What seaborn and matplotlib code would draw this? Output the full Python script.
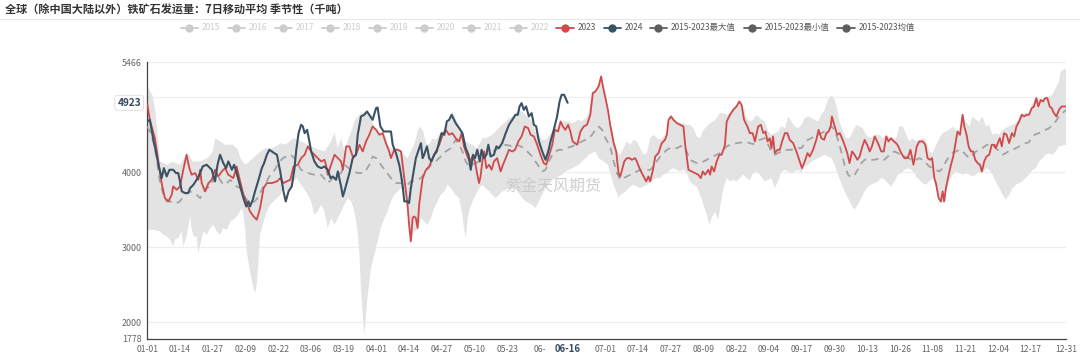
import numpy as np
import pandas as pd
import matplotlib
matplotlib.use("Agg")
import matplotlib.pyplot as plt
from matplotlib.lines import Line2D
import seaborn as sns

# ---------------- data ----------------
title = "全球（除中国大陆以外）铁矿石发运量：7日移动平均 季节性（千吨）"
legend_off = ["2015", "2016", "2017", "2018", "2019", "2020", "2021", "2022"]
legend_on = ["2023", "2024", "2015-2023最大值", "2015-2023最小值", "2015-2023均值"]
xtick_labels = ["01-01", "01-14", "01-27", "02-09", "02-22", "03-06", "03-19", "04-01",
                "04-14", "04-27", "05-10", "05-23", "06-05", "07-01", "07-14", "07-27",
                "08-09", "08-22", "09-04", "09-17", "09-30", "10-13", "10-26", "11-08",
                "11-21", "12-04", "12-17", "12-31"]
xtick_shown = ["01-01", "01-14", "01-27", "02-09", "02-22", "03-06", "03-19", "04-01",
               "04-14", "04-27", "05-10", "05-23", "06-", "07-01", "07-14", "07-27",
               "08-09", "08-22", "09-04", "09-17", "09-30", "10-13", "10-26", "11-08",
               "11-21", "12-04", "12-17", "12-31"]
last_date_label = "06-16"
last_value = 4923
ytick_values = [1778, 2000, 3000, 4000, 5466]
grid_values = [2000, 3000, 4000, 5000, 5466]
y_lo, y_hi = 1778, 5466
watermark = "紫金天风期货"

# day of year (0 = 01-01) and values
day_2023 = [0, 1, 3, 4.4, 5.7, 7, 8.4, 9.7, 10.3, 11.7, 13, 14.3, 15.6, 16.7, 17.6, 19, 20.3, 21, 21.6, 23,
            24.3, 25.6, 26.9, 28.2, 29.6, 30.9, 32.2, 34.2, 35.5, 36.9, 38.2, 39.5, 40.8, 42.2, 43.5, 44.8,
            46.2, 47.5, 49.5, 51.5, 52.8, 54.1, 55.4, 56.8, 58.1, 59.8, 61.1, 62.5, 63.8, 65.1, 66.4, 67.7,
            69.1, 70.4, 71, 71.7, 73, 74.4, 75.7, 77, 77.7, 79, 80.3, 81.6, 82.9, 84.3, 85.6, 86.9, 88.2,
            89.5, 90.9, 92.2, 93.5, 94.8, 96.1, 96.8, 98.1, 99.5, 100.8, 102.1, 103.4, 104, 104.7, 105.4,
            106, 106.7, 107.4, 108, 109.4, 110.7, 112, 113.3, 114.6, 116, 117.3, 118.6, 119.9, 121.2, 122.5,
            123.9, 124.9, 125.8, 127.2, 128.1, 129.2, 130.2, 131.1, 131.8, 132.4, 133.1, 133.8, 134.7, 135.8,
            136.8, 137.7, 139, 140.4, 141.3, 142.4, 143.7, 145, 146.1, 147.4, 148.7, 150, 151.3, 152.3, 153.6,
            154.9, 156.2, 157.5, 158.5, 159.5, 160.9, 161.9, 163.2, 164.2, 165.1, 166.1, 167.2, 168.1, 169,
            170.8, 172.1, 173.4, 174.7, 176, 177, 178, 179.3, 180.3, 180.9, 182, 183, 183.9, 185.3, 186.3,
            187.2, 187.9, 188.6, 189.5, 190.5, 191.6, 192.5, 193.8, 194.5, 195.8, 197.2, 198.2, 199.1, 199.8,
            200.9, 201.8, 203.1, 204.4, 205.7, 206.4, 207.1, 208.1, 209, 210.4, 211.7, 213, 213.7, 215, 216.3,
            217.6, 218.9, 219.9, 220.7, 221.6, 222.9, 223.6, 224.2, 225.2, 226.2, 227.3, 228.2, 229.5, 230.2,
            231.5, 232.8, 234.1, 235.2, 236.1, 237.1, 238.4, 239.4, 240.5, 241.4, 242.7, 243.8, 244.7, 245.6,
            246.4, 247.3, 248, 248.6, 249.3, 250.4, 251.3, 252.2, 253.3, 254.3, 255.2, 256.6, 257.9, 259.2,
            260.1, 261.2, 262.3, 263.2, 264.5, 265.8, 266.7, 267.8, 268.9, 269.8, 270.7, 271.5, 272, 273.1,
            274.1, 275.1, 276, 277, 278.1, 279, 280, 281, 282.1, 283, 283.9, 285, 286, 287, 287.9, 289, 290.3,
            291.6, 292.6, 293.6, 294.5, 295.5, 296.6, 297.5, 298.4, 299.5, 300.8, 302.1, 303.2, 304.4, 305,
            305.7, 306.7, 308.1, 309.1, 310, 311, 311.8, 312.7, 313.3, 314.4, 315.3, 316, 316.6, 317.3, 318.4,
            319.3, 320.2, 321, 321.9, 322.9, 323.9, 324.6, 325.5, 326.3, 327.2, 328.1, 328.9, 329.9, 330.8,
            331.6, 332.5, 333.4, 334.5, 335.5, 336.5, 337.1, 337.9, 338.7, 339.5, 340.4, 341.4, 342.4, 343.5,
            344.4, 345.3, 346.4, 347.4, 348.4, 349.3, 350.3, 351.4, 352.3, 353.2, 354, 355, 355.9, 356.7,
            357.6, 358.5, 359.3, 360.2, 361.2, 362.2, 363.3, 365]
val_2023 = [4905, 4696, 4452, 4142, 3854, 3654, 3610, 3700, 3810, 3765, 3810, 4031, 4230, 4053, 3965, 3987, 3898,
            4031, 3854, 3743, 3854, 3898, 4031, 3942, 4009, 4053, 3965, 3920, 4075, 3876, 3698, 3588, 3477, 3410,
            3366, 3521, 3787, 3854, 3854, 3876, 3920, 3854, 3876, 3898, 4075, 4098, 4186, 4231, 4342, 4275, 4231,
            4186, 4142, 4164, 4098, 3965, 4098, 4231, 4186, 4142, 4031, 4342, 4342, 4208, 4231, 4364, 4275, 4408,
            4497, 4608, 4563, 4497, 4519, 4386, 4275, 4186, 4297, 4297, 4275, 3920, 3565, 3299, 3078, 3388, 3410,
            3388, 3255, 3565, 3920, 4031, 4075, 4186, 4275, 4364, 4497, 4563, 4497, 4519, 4452, 4408, 4519, 4342,
            4208, 4142, 4208, 4142, 3965, 3854, 3942, 4142, 4275, 4053, 4098, 4031, 4142, 4186, 4009, 4098, 4186,
            4297, 4275, 4297, 4408, 4475, 4608, 4586, 4497, 4475, 4364, 4231, 4120, 4098, 4208, 4364, 4563, 4541,
            4674, 4608, 4563, 4630, 4541, 4408, 4364, 4541, 4608, 4630, 4763, 5051, 5073, 5140, 5273, 5162, 4985,
            4829, 4630, 4386, 4275, 3987, 3942, 4031, 4142, 4186, 4186, 4164, 4186, 4142, 4031, 3942, 3876, 3942,
            3876, 4031, 4208, 4253, 4386, 4430, 4497, 4696, 4741, 4696, 4652, 4630, 4608, 4364, 4031, 4009, 3987,
            3965, 3920, 4009, 3965, 4031, 3965, 4075, 4009, 4142, 4231, 4231, 4364, 4674, 4763, 4829, 4874, 4940,
            4896, 4696, 4608, 4519, 4519, 4408, 4608, 4630, 4519, 4541, 4408, 4452, 4319, 4475, 4253, 4297, 4297,
            4408, 4519, 4519, 4430, 4386, 4275, 4142, 4053, 4142, 4253, 4208, 4297, 4430, 4563, 4452, 4430, 4519,
            4541, 4608, 4741, 4608, 4497, 4519, 4452, 4364, 4253, 4120, 4275, 4231, 4164, 4208, 4319, 4430, 4364,
            4275, 4342, 4475, 4386, 4275, 4275, 4475, 4408, 4452, 4408, 4386, 4342, 4253, 4186, 4186, 4297, 4098,
            4208, 4342, 4408, 4408, 4364, 4186, 4164, 4186, 3920, 3854, 3654, 3610, 3743, 3610, 3787, 3965, 4098,
            4208, 4364, 4541, 4497, 4763, 4608, 4497, 4342, 4275, 4275, 4164, 4120, 4098, 4009, 4142, 4208, 4231,
            4364, 4364, 4319, 4386, 4452, 4342, 4519, 4497, 4386, 4519, 4475, 4608, 4674, 4763, 4741, 4763, 4763,
            4852, 4874, 4985, 4874, 4962, 4940, 4985, 4985, 4874, 4852, 4785, 4741, 4829, 4874, 4874]

day_2024 = [0, 1, 2.4, 3.7, 4.4, 5.7, 6.6, 7.7, 8.8, 10.3, 11.4, 12.3, 13, 13.7, 15, 16.3, 17, 18.3, 19.6, 20.7,
            22, 23.6, 25.6, 26.9, 27.9, 28.9, 30.2, 31.3, 32.2, 33.6, 34.5, 35.5, 36.9, 38.2, 39.3, 40.2, 40.8,
            41.9, 42.8, 44.2, 45.5, 46.4, 47.5, 48.5, 49.5, 50.4, 51.5, 52.8, 54.1, 55, 56.1, 57.4, 58.4, 59.2,
            60.1, 61.1, 61.8, 62.5, 63.5, 64.4, 65.1, 66.4, 67.7, 69.1, 70.4, 71.7, 72.8, 73.7, 75, 75.7, 77,
            77.7, 78.3, 79.4, 80.3, 81.6, 82.9, 83.6, 84.9, 86.2, 87.3, 88.2, 89.5, 90.9, 91.5, 92.6, 93.9, 95.5,
            96.8, 97.5, 98.8, 100.1, 100.8, 101.4, 102.1, 103.4, 104, 104.7, 105.8, 106.7, 108, 108.7, 109.4, 110,
            111.1, 112, 112.9, 114, 115, 116, 116.9, 118, 119, 119.9, 120.9, 122.5, 123.9, 125.2, 126.5, 127.6,
            128.5, 129.4, 130.2, 131.1, 132.1, 132.8, 133.8, 134.7, 135.5, 136.4, 137.7, 138.7, 139.7, 141, 142.4,
            143.7, 145, 146.3, 147.2, 147.9, 148.7, 149.6, 150.5, 151.6, 152.7, 153.6, 154.5, 155.6, 156.9, 158.2,
            159.3, 160.2, 161.5, 162.8, 163.8, 164.6, 165.6, 167]
val_2024 = [4674, 4696, 4430, 4231, 4098, 3920, 4053, 3942, 4031, 4031, 3987, 3987, 3876, 3743, 3721, 3721, 3787,
            3831, 3898, 3965, 4075, 4098, 4031, 3876, 4098, 4231, 4120, 4053, 4142, 4031, 4098, 3987, 3809, 3654,
            3543, 3610, 3543, 3632, 3743, 3898, 4053, 4120, 4231, 4297, 4275, 4253, 4231, 4009, 3743, 3610, 3743,
            3809, 4031, 4297, 4519, 4630, 4608, 4519, 4563, 4408, 4275, 4142, 4075, 4053, 4075, 4031, 3920, 3942,
            3898, 4009, 3809, 3676, 3743, 3876, 3987, 4186, 4231, 4497, 4741, 4763, 4807, 4763, 4696, 4852, 4860,
            4608, 4541, 4541, 4541, 4364, 4253, 4098, 3965, 3831, 3610, 3610, 3588, 3787, 4009, 4186, 4319, 4386,
            4186, 4231, 4342, 4186, 4142, 4231, 4275, 4408, 4519, 4497, 4674, 4696, 4763, 4652, 4586, 4519, 4319,
            4231, 4031, 4231, 4186, 4297, 4142, 4297, 4186, 4231, 4364, 4208, 4231, 4342, 4319, 4386, 4519, 4630,
            4696, 4763, 4763, 4874, 4918, 4829, 4874, 4741, 4785, 4630, 4608, 4408, 4275, 4164, 4275, 4408, 4563,
            4741, 4940, 5029, 5029, 4923]

day_max = [0, 2, 3, 4, 5, 8, 10, 13, 16, 18, 21, 24, 26, 27, 29, 31, 34, 36, 37, 39, 42, 45, 47, 50, 53, 55, 58,
           62.5, 66.4, 70.4, 73, 74.4, 75.7, 77, 78.3, 79.6, 81, 82.3, 83.6, 84.9, 86.9, 88.2, 90.2, 92.2, 94,
           95.5, 96.8, 98.1, 99.5, 100.8, 102.1, 103.4, 104.7, 106, 107.4, 108, 109.4, 110.7, 112, 113.3, 114.6,
           116, 117.3, 118.6, 119.9, 121.2, 122.5, 123.9, 125.2, 126.5, 127.8, 129.2, 130.5, 131.8, 133.1, 134.4,
           135.8, 137.1, 138.4, 139.7, 141, 142.4, 143.7, 145, 146.3, 147.6, 149, 150.3, 151.6, 152.9, 154.2,
           155.6, 156.9, 158.2, 159.5, 160.9, 162.2, 163.5, 164.8, 166.1, 167.5, 168.8, 170.1, 171.4, 172.7,
           174.1, 175.4, 176.7, 178, 179.3, 180.3, 181.3, 182.6, 183.9, 185.3, 186.6, 187.9, 189.2, 190.5, 191.9,
           193.2, 194.5, 195.8, 197.2, 198.5, 199.8, 201.1, 202.4, 203.8, 205.1, 206.4, 207.1, 208.1, 209, 210.4,
           211.7, 213, 214.3, 215.6, 217, 218.3, 219.6, 221, 222.3, 223.6, 224.9, 226.2, 227.5, 228.9, 230.2,
           231.5, 232.8, 234.1, 235.2, 236.8, 238.1, 239.4, 240.7, 242, 243.4, 245.3, 246.7, 248, 249.3, 250.6,
           252, 253.3, 254.6, 255.9, 257.2, 258.6, 259.9, 261.2, 262.5, 263.8, 265.2, 266.5, 267.8, 269.1, 270.4,
           271.8, 272.8, 273.7, 275, 276.4, 277.7, 279, 280.3, 281.7, 283, 284.3, 285.6, 287, 288.3, 289.6, 291,
           292.2, 293.6, 294.9, 296.2, 297.5, 298.8, 300.2, 301.5, 302.8, 304, 305.4, 306.7, 308, 309.4, 310.7,
           312, 313.4, 314.7, 316, 317.3, 318.6, 320, 321.3, 322.6, 324, 325.2, 326.6, 327.9, 329.2, 330.5, 331.8,
           333.2, 334.5, 335.8, 337.1, 338.4, 339.8, 341, 342.4, 343.7, 345, 346.4, 347.7, 349, 350.3, 351.7, 353,
           354.3, 355.6, 357, 358.3, 359.6, 360.9, 362.2, 362.9, 365]
val_max = [5140, 5029, 4852, 4541, 4142, 4098, 4142, 4098, 4260, 4142, 4142, 4186, 4275, 4452, 4408, 4364, 4364,
           4297, 4186, 4098, 4186, 4275, 4319, 4319, 4386, 4364, 4452, 4386, 4319, 4275, 4408, 4519, 4319, 4452,
           4275, 4408, 4541, 4674, 4741, 4785, 4807, 4763, 4608, 4497, 4530, 4364, 4319, 4320, 4320, 4290, 4231,
           4186, 4275, 4364, 4541, 4608, 4563, 4386, 4364, 4452, 4430, 4497, 4541, 4608, 4674, 4807, 4718, 4608,
           4497, 4408, 4386, 4364, 4319, 4364, 4452, 4452, 4475, 4497, 4541, 4586, 4630, 4674, 4718, 4741, 4785,
           4829, 4807, 4763, 4718, 4674, 4541, 4475, 4430, 4430, 4475, 4541, 4585, 4630, 4674, 4674, 4674, 4652,
           4674, 4696, 4674, 4718, 4785, 5073, 5095, 5162, 5273, 5140, 4940, 4674, 4452, 4275, 4231, 4319, 4408,
           4364, 4430, 4408, 4319, 4231, 4253, 4452, 4497, 4452, 4430, 4475, 4519, 4718, 4763, 4718, 4674, 4652,
           4652, 4630, 4630, 4585, 4475, 4452, 4563, 4608, 4652, 4674, 4718, 4785, 4785, 4763, 4785, 4852, 4896,
           4949, 4870, 4718, 4674, 4696, 4763, 4718, 4674, 4541, 4497, 4519, 4541, 4608, 4585, 4741, 4674, 4608,
           4585, 4630, 4718, 4741, 4718, 4696, 4674, 4763, 4829, 4962, 5020, 4985, 4896, 4674, 4541, 4452, 4452,
           4541, 4630, 4608, 4585, 4497, 4452, 4475, 4500, 4497, 4452, 4497, 4460, 4440, 4452, 4608, 4608, 4497,
           4408, 4452, 4408, 4430, 4452, 4430, 4275, 4253, 4364, 4452, 4519, 4541, 4563, 4608, 4560, 4541, 4785,
           4674, 4608, 4741, 4696, 4674, 4741, 4608, 4630, 4497, 4519, 4497, 4563, 4585, 4608, 4630, 4652, 4720,
           4785, 4785, 4785, 4918, 5000, 4975, 4962, 5007, 5007, 5029, 5118, 5206, 5339, 5384]

day_min = [0, 2.4, 5, 6.4, 7.7, 9, 10.3, 11, 12.3, 13.6, 14.3, 15.6, 17, 17.6, 18.3, 19.6, 20.3, 21, 22.3, 23.6,
           25, 26.3, 27.6, 28.9, 30.2, 31.6, 33, 34.2, 35.5, 36.9, 37.5, 38.2, 38.9, 39.5, 40.8, 42.2, 42.8, 43.5,
           44.2, 44.8, 46.2, 47.5, 48.8, 50.1, 51.5, 52.8, 54.1, 55.4, 56.8, 58.1, 59.4, 60.7, 63.8, 65.1, 66.4,
           67.7, 69.1, 70.4, 71.7, 73, 74.4, 75.7, 77, 78.3, 79.6, 81, 82.3, 83.6, 84.3, 84.9, 85.6, 86.2, 86.9,
           87.6, 88.9, 90.2, 91.5, 92.8, 94.2, 95.5, 96.8, 98.1, 99.5, 100.8, 102.1, 103.4, 104.7, 106, 107.4,
           108.7, 110, 111.3, 112.7, 114, 115.3, 116.6, 118, 119.3, 120.6, 122.5, 123.9, 125.2, 125.8, 126.5,
           127.2, 127.8, 129.2, 130.5, 131.8, 133.1, 134.4, 135.8, 137.1, 138.4, 139.7, 141, 142.4, 143.7, 145,
           146.3, 147.6, 149, 150.3, 151.6, 152.9, 154.2, 155.6, 156.9, 158.2, 159.5, 160.9, 162.2, 163.5, 164.8,
           166.1, 167.5, 168.8, 170.1, 171.4, 172.7, 174.1, 175.4, 176.7, 178, 179.3, 181, 183, 185.3, 186.6,
           187.2, 187.9, 189.2, 190.5, 191.9, 193.2, 194.5, 195.8, 197.2, 198.5, 199.8, 201.1, 202.4, 203.8,
           205.1, 206.4, 207.7, 209, 210.4, 211.7, 213, 214.3, 215.6, 217, 218.3, 219.6, 221, 222.3, 223.3, 224.2,
           225.5, 226.9, 227.5, 228.9, 230.2, 231.5, 232.8, 234.1, 235.5, 236.8, 238.1, 239.4, 240.7, 242, 243.4,
           245.3, 246.7, 248, 249.3, 250.6, 252, 253.3, 254.6, 255.9, 257.2, 258.6, 259.9, 261.2, 262.5, 263.8,
           265.2, 266.5, 267.8, 269.1, 270.4, 271.8, 273.1, 274.4, 275.7, 277, 278.4, 279.7, 281, 282.3, 283.7,
           285, 286.3, 287.6, 288.9, 290.3, 291.6, 292.9, 294.2, 295.5, 296.9, 298.2, 299.5, 300.8, 302.1, 303.5,
           304.8, 305.4, 306.7, 308.1, 309.4, 310.7, 312, 313.4, 314.7, 316.6, 317.3, 318.6, 320, 321.3, 322.6,
           324, 325.2, 326.6, 327.9, 329.2, 330.5, 331.8, 333.2, 334.5, 335.8, 337.1, 338.5, 339.8, 341.1, 342.4,
           343.7, 345.1, 346.4, 347.7, 349, 350.3, 351.7, 353, 354.3, 355.6, 356.9, 358.3, 359.6, 360.9, 362.2, 365]
val_min = [3233, 3233, 3211, 3166, 3144, 3100, 3011, 3100, 3122, 3211, 3011, 3144, 3410, 3255, 3144, 3144, 2922,
           3033, 3211, 3166, 3255, 3299, 3211, 3166, 3255, 3233, 3344, 3366, 3410, 3477, 3521, 3432, 3255, 2944,
           2678, 2457, 2390, 2501, 2856, 3166, 3344, 3477, 3565, 3610, 3654, 3698, 3787, 3743, 3787, 3876, 3920,
           3854, 3698, 3610, 3432, 3477, 3565, 3477, 3255, 3388, 3299, 3388, 3477, 3565, 3654, 3610, 3477, 3211,
           2900, 2457, 2102, 1836, 2102, 2368, 2723, 2900, 3078, 3255, 3388, 3477, 3610, 3698, 3743, 3787, 3743,
           3477, 3060, 3211, 3230, 3388, 3344, 3299, 3388, 3521, 3610, 3698, 3743, 3831, 3787, 3698, 3654, 3432,
           3255, 3122, 3344, 3477, 3610, 3698, 3787, 3831, 3787, 3743, 3698, 3654, 3698, 3743, 3765, 3787, 3809,
           3787, 3721, 3654, 3610, 3588, 3565, 3521, 3610, 3698, 3787, 3831, 3898, 3920, 3942, 3965, 4009, 4031,
           4053, 4075, 4098, 4142, 4186, 4231, 4253, 4275, 4186, 4150, 4098, 3831, 3721, 3654, 3698, 3721, 3765,
           3809, 3831, 3809, 3787, 3809, 3831, 3860, 3898, 3920, 3920, 3965, 3987, 4031, 4053, 4031, 4009, 4031,
           3987, 3876, 3831, 3809, 3698, 3565, 3432, 3299, 3388, 3477, 3366, 3521, 3787, 3920, 3876, 3898, 3876,
           3920, 3965, 3920, 3898, 3987, 4009, 3965, 3876, 3898, 3920, 3787, 3876, 4009, 4031, 4009, 3987, 4009,
           4031, 3990, 4075, 4098, 4142, 4164, 4186, 4208, 4231, 4208, 4186, 4098, 3965, 3854, 3743, 3654, 3565,
           3499, 3565, 3654, 3743, 3809, 3831, 3854, 3876, 3920, 3898, 3854, 3809, 3876, 3965, 3987, 4031, 4053,
           4031, 3987, 3942, 3898, 3854, 3831, 3876, 3920, 3831, 3590, 3590, 3743, 3876, 3965, 4009, 3987, 3965,
           3987, 3965, 3942, 3965, 4009, 3990, 4053, 4031, 3965, 3876, 3787, 3698, 3632, 3698, 3787, 3831, 3854,
           3876, 3920, 3965, 4031, 4053, 4142, 4186, 4231, 4253, 4231, 4275, 4342, 4364]

day_mean = [0, 1, 2.4, 3.7, 5, 6.4, 7.7, 9, 10.3, 11.7, 13, 14.3, 15.6, 17, 18.3, 19.6, 21, 22.3, 23.6, 25, 26.3,
            27.6, 28.9, 30.2, 31.6, 33, 34.2, 35.5, 36.9, 38.2, 39.5, 40.8, 42.2, 43.5, 44.8, 46.2, 47.5, 48.8,
            50.1, 51.5, 52.8, 54.1, 55.4, 56.8, 58.1, 61.1, 63.8, 66.4, 69.1, 71.7, 74.4, 77, 78.3, 80.9, 83.6,
            86.2, 88.2, 89.5, 90.9, 92.8, 94.8, 96.8, 98.8, 100.8, 103.4, 104.7, 107.4, 108.7, 110.7, 112.7, 114.6,
            116.6, 118.6, 120.6, 122.5, 123.9, 125.2, 126.5, 127.8, 129.2, 130.5, 131.8, 133.1, 134.4, 135.8,
            137.1, 138.4, 139.7, 141, 142.4, 143.7, 145, 146.3, 147.6, 149, 150.3, 151.6, 152.9, 154.2, 155.6,
            156.9, 158.2, 159.5, 160.9, 162.2, 163.5, 164.8, 166.1, 167.5, 168.8, 170.1, 171.4, 172.7, 174.1,
            175.4, 176.7, 178, 179.3, 180.7, 182, 183.9, 185.3, 186.6, 187.9, 189.2, 190.5, 191.9, 193.2, 194.5,
            195.8, 198.5, 199.8, 201.1, 202.4, 203.8, 205.1, 206.4, 207.7, 210.4, 211.7, 213, 214.3, 215.6, 217,
            218.3, 219.6, 221, 222.3, 223.6, 224.9, 226.2, 227.5, 228.9, 230.2, 231.5, 232.8, 234.1, 236.8, 238.1,
            239.4, 240.7, 242, 243.4, 245.3, 246.7, 248, 249.3, 250.6, 252, 253.3, 255.9, 258.6, 259.9, 261.2,
            262.5, 263.8, 265.2, 266.5, 267.8, 269.1, 270.4, 271.8, 273.1, 274.4, 275.7, 277, 278.4, 279.7, 281,
            282.3, 283.7, 285, 286.3, 287.6, 288.9, 290.3, 291.6, 292.9, 294.2, 295.5, 296.9, 298.2, 299.5, 300.8,
            302.1, 303.5, 304.8, 306.7, 308.1, 309.4, 310.7, 312, 313.4, 314.7, 316, 317.3, 318.6, 320, 321.3,
            322.6, 324, 325.2, 326.6, 327.9, 329.2, 330.5, 331.8, 333.2, 334.5, 335.8, 337.1, 338.5, 339.8, 341.1,
            342.4, 343.7, 345.1, 346.4, 347.7, 349, 350.3, 351.7, 353, 354.3, 355.6, 356.9, 358.3, 359.6, 360.9,
            362.2, 365]
val_mean = [4608, 4541, 4408, 4186, 3876, 3698, 3610, 3610, 3588, 3588, 3610, 3676, 3721, 3743, 3721, 3698, 3654,
            3743, 3787, 3809, 3898, 3965, 3898, 3831, 3854, 3898, 3854, 3809, 3787, 3698, 3632, 3600, 3600, 3640,
            3720, 3810, 3880, 3960, 4000, 4080, 4150, 4190, 4210, 4230, 4200, 4031, 3987, 3965, 3965, 3854, 3942,
            3987, 4098, 4031, 3987, 3987, 4098, 4208, 4186, 4098, 4009, 3920, 3854, 3854, 3831, 3876, 3898, 3920,
            4009, 4098, 4142, 4208, 4275, 4319, 4430, 4364, 4275, 4142, 4075, 4098, 4120, 4142, 4186, 4231, 4253,
            4275, 4297, 4319, 4342, 4364, 4355, 4342, 4364, 4355, 4330, 4297, 4253, 4208, 4142, 4075, 4009, 4031,
            4142, 4231, 4275, 4297, 4297, 4319, 4330, 4342, 4364, 4386, 4408, 4430, 4452, 4497, 4563, 4608, 4563,
            4452, 4342, 4142, 3987, 3898, 3920, 3942, 3965, 3987, 4009, 4031, 4031, 4031, 4075, 4142, 4208, 4253,
            4297, 4319, 4319, 4342, 4355, 4275, 4164, 4142, 4120, 4120, 4142, 4164, 4186, 4208, 4231, 4253, 4297,
            4342, 4364, 4373, 4386, 4397, 4397, 4386, 4373, 4397, 4430, 4452, 4364, 4275, 4231, 4253, 4275, 4297,
            4297, 4319, 4319, 4386, 4430, 4452, 4475, 4497, 4519, 4541, 4563, 4608, 4563, 4430, 4275, 4098, 3965,
            3929, 3965, 4031, 4120, 4164, 4177, 4164, 4164, 4177, 4186, 4164, 4208, 4253, 4275, 4253, 4231, 4208,
            4195, 4164, 4151, 4186, 4164, 4120, 4075, 4053, 4031, 4009, 4053, 4142, 4208, 4253, 4275, 4297, 4275,
            4231, 4186, 4231, 4275, 4297, 4319, 4355, 4373, 4364, 4319, 4275, 4231, 4253, 4284, 4297, 4319, 4342,
            4364, 4386, 4399, 4475, 4506, 4519, 4541, 4563, 4585, 4630, 4674, 4741, 4829]

# ---------------- styling ----------------
RED = "#d0494b"
NAVY = "#3b5265"
MEAN_C = "#a3a3a3"
BAND_C = "#e3e3e3"
GRID_C = "#eeeeee"
AXIS_C = "#444444"
TICK_TXT = "#666666"
LEG_GRAY = "#5e5e5e"
LEG_OFF = "#cccccc"

sns.set_theme(style="white")
plt.rcParams["font.family"] = ["Noto Sans CJK SC", "DejaVu Sans"]
plt.rcParams["axes.unicode_minus"] = False

W, H = 1080, 357
fig = plt.figure(figsize=(W / 100, H / 100), dpi=100)
fig.patch.set_facecolor("white")

ax_l, ax_r, ax_t, ax_b = 147.3, 1066, 62, 339
ax = fig.add_axes([ax_l / W, (H - ax_b) / H, (ax_r - ax_l) / W, (ax_b - ax_t) / H])
ax.set_facecolor("white")

# grid
for g in grid_values:
    ax.axhline(g, color=GRID_C, lw=0.9, zorder=0)

# band (max/min polygon)
band_x = np.r_[np.array(day_max), np.array(day_min)[::-1]]
band_y = np.r_[np.array(val_max), np.array(val_min)[::-1]]
ax.fill(band_x, band_y, color=BAND_C, lw=0, zorder=1)

df23 = pd.DataFrame({"day": day_2023, "v": val_2023})
df24 = pd.DataFrame({"day": day_2024, "v": val_2024})
dfm = pd.DataFrame({"day": day_mean, "v": val_mean})

sns.lineplot(data=dfm, x="day", y="v", ax=ax, color=MEAN_C, lw=1.3, estimator=None, sort=False,
             linestyle=(0, (4, 3)), zorder=3)
sns.lineplot(data=df23, x="day", y="v", ax=ax, color=RED, lw=1.3, estimator=None, sort=False, zorder=4)
sns.lineplot(data=df24, x="day", y="v", ax=ax, color=NAVY, lw=1.5, estimator=None, sort=False, zorder=5)

ax.set_xlim(0, 365)
ax.set_ylim(y_lo, y_hi)
ax.set_xlabel("")
ax.set_ylabel("")

# axes spines
for s in ["top", "right"]:
    ax.spines[s].set_visible(False)
for s in ["left", "bottom"]:
    ax.spines[s].set_color(AXIS_C)
    ax.spines[s].set_linewidth(0.9)

# ticks
xt_days = [pd.Timestamp("2024-" + lab).dayofyear - 1 for lab in xtick_labels]
ax.set_xticks(xt_days)
ax.set_xticklabels(xtick_shown)
ax.set_yticks(ytick_values)
ax.set_yticklabels([str(v) for v in ytick_values])
ax.tick_params(axis="x", direction="out", length=3, width=0.8, color=AXIS_C, pad=1.5,
               labelsize=6.2, labelcolor=TICK_TXT)
ax.tick_params(axis="y", direction="out", length=3, width=0.8, color=AXIS_C, pad=1.2,
               labelsize=6.4, labelcolor=TICK_TXT)
ax.grid(False)

# highlighted last date / value labels
last_day = pd.Timestamp("2024-" + last_date_label).dayofyear - 1
ax.annotate(last_date_label, xy=(last_day, 0), xycoords=("data", "axes fraction"),
            xytext=(0, -3.6), textcoords="offset points", ha="center", va="top",
            fontsize=6.8, fontweight="bold", color="#34495e")
ax.annotate(str(last_value), xy=(0, last_value), xycoords=("axes fraction", "data"),
            xytext=(-4.5, 0), textcoords="offset points", ha="right", va="center",
            fontsize=7.3, fontweight="bold", color="#34495e",
            bbox=dict(boxstyle="round,pad=0.25", fc="white", ec="#dcdcdc", lw=0.6))

# watermark
fig.text(553 / W, 1 - 187 / H, watermark, ha="center", va="center", fontsize=11.5,
         color="#c9c9c9", alpha=0.9, zorder=6)

# title and separator
fig.text(5 / W, 1 - 9.5 / H, title, ha="left", va="center", fontsize=8, fontweight="bold", color="#333333")
fig.add_artist(Line2D([0, 1], [1 - 19 / H, 1 - 19 / H], transform=fig.transFigure, color="#e8e8e8", lw=0.8))

# legend
leg_y = 1 - 27.5 / H
def legend_item(text_x, label, color, tcolor):
    cx = text_x - 13
    fig.add_artist(Line2D([(cx - 8.5) / W, (cx + 8.5) / W], [leg_y, leg_y], transform=fig.transFigure,
                          color=color, lw=1.3))
    fig.add_artist(Line2D([cx / W], [leg_y], transform=fig.transFigure, marker="o", markersize=5,
                          color=color, markeredgecolor=color, lw=0))
    fig.text(text_x / W, leg_y, label, ha="left", va="center", fontsize=6, color=tcolor)

spacing = 47
start_text = 578 - spacing * len(legend_off)
for i, lab in enumerate(legend_off):
    legend_item(start_text + i * spacing, lab, LEG_OFF, LEG_OFF)
on_text_x = [578, 625, 671, 765, 859]
on_colors = [RED, NAVY, LEG_GRAY, LEG_GRAY, LEG_GRAY]
for tx, lab, c in zip(on_text_x, legend_on, on_colors):
    legend_item(tx, lab, c, "#555555")

fig.savefig("out.png", dpi=100, facecolor="white")
